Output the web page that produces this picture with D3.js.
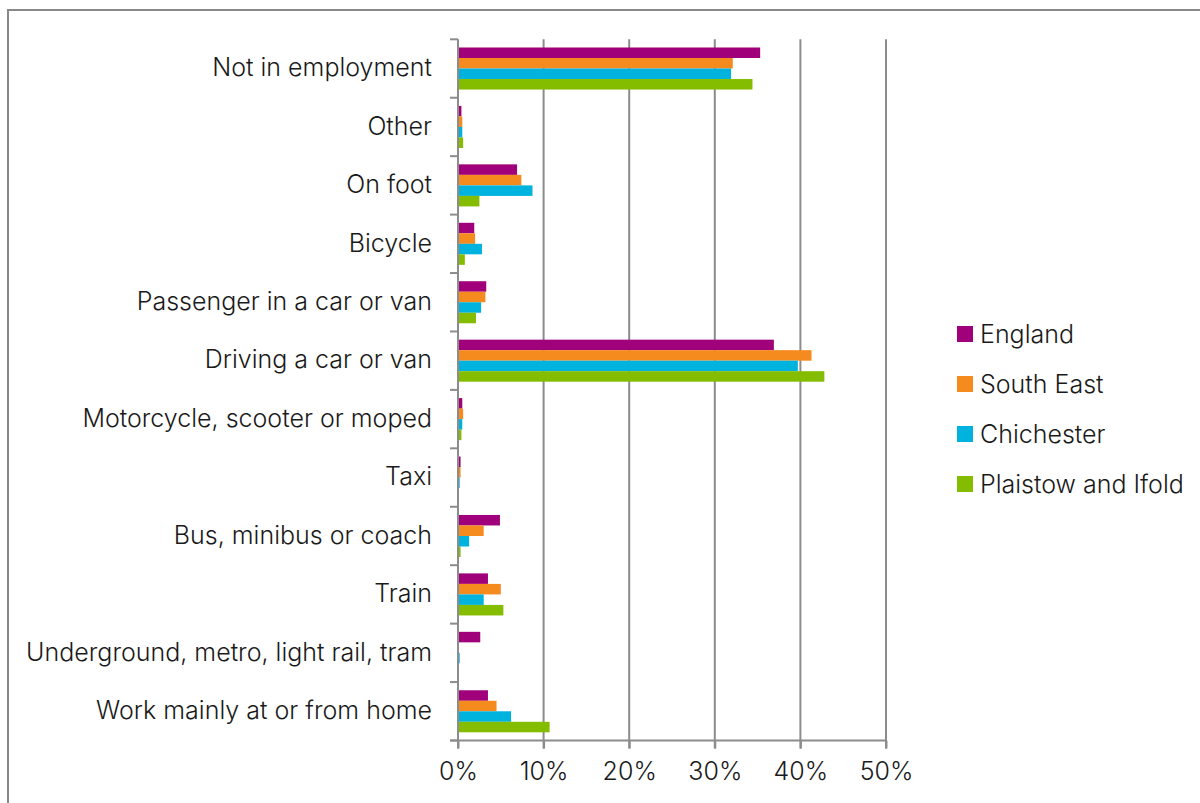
<!DOCTYPE html>
<html>
<head>
<meta charset="utf-8">
<script src="https://cdn.jsdelivr.net/npm/d3@7"></script>
<style>
  html, body { margin: 0; padding: 0; background: #fff; }
  svg { display: block; }
  text { font-family: Inter, "Noto Sans", sans-serif; fill: #1a1a1a; font-weight: 300; }
</style>
</head>
<body>
<svg id="chart" width="1200" height="803"></svg>
<script>
const categories = [
  "Not in employment", "Other", "On foot", "Bicycle",
  "Passenger in a car or van", "Driving a car or van",
  "Motorcycle, scooter or moped", "Taxi", "Bus, minibus or coach",
  "Train", "Underground, metro, light rail, tram", "Work mainly at or from home"
];
const seriesNames = ["England", "South East", "Chichester", "Plaistow and Ifold"];
const seriesColors = ["#A0007A", "#F58A1F", "#00B2DE", "#84BD00"];
const england    = [35.3, 0.4, 6.9, 1.9, 3.3, 36.9, 0.5, 0.3, 4.9, 3.5, 2.6, 3.5];
const southEast  = [32.1, 0.5, 7.4, 2.0, 3.2, 41.3, 0.6, 0.3, 3.0, 5.0, 0.1, 4.5];
const chichester = [31.9, 0.5, 8.7, 2.8, 2.7, 39.7, 0.5, 0.2, 1.3, 3.0, 0.2, 6.2];
const plaistow   = [34.4, 0.6, 2.5, 0.8, 2.1, 42.8, 0.4, 0.1, 0.3, 5.3, 0.0, 10.7];
const xTicks = [0, 10, 20, 30, 40, 50];

const values = [england, southEast, chichester, plaistow];

const svg = d3.select("#chart");
const margin = { left: 458, top: 39.3, right: 314, bottom: 62.5 };
const W = 1200, H = 803;
const plotH = H - margin.top - margin.bottom;

svg.append("rect")
  .attr("x", 8).attr("y", 10).attr("width", 1200).attr("height", 810)
  .attr("fill", "none").attr("stroke", "#888").attr("stroke-width", 2);

const g = svg.append("g").attr("transform", `translate(${margin.left},${margin.top})`);

const x = d3.scaleLinear().domain([0, 50]).range([0, 428]);
const y = d3.scaleBand().domain(categories).range([0, plotH]).paddingInner(0).paddingOuter(0);
const ySub = d3.scaleBand().domain(seriesNames).range([0, y.bandwidth()]).paddingOuter(0.78).paddingInner(0);

g.append("g").selectAll("line")
  .data(xTicks.filter(d => d > 0))
  .join("line")
  .attr("x1", d => x(d)).attr("x2", d => x(d))
  .attr("y1", 0).attr("y2", plotH + 8)
  .attr("stroke", "#8c8c8c").attr("stroke-width", 2);

seriesNames.forEach((s, si) => {
  g.append("g").selectAll("rect")
    .data(categories.map((c, ci) => ({ c, v: values[si][ci] })))
    .join("rect")
    .attr("x", 0)
    .attr("y", d => y(d.c) + ySub(s))
    .attr("width", d => x(d.v))
    .attr("height", ySub.bandwidth())
    .attr("fill", seriesColors[si]);
});

const yAxisG = g.append("g");
yAxisG.append("line")
  .attr("x1", 0).attr("x2", 0).attr("y1", 0).attr("y2", plotH + 8)
  .attr("stroke", "#8c8c8c").attr("stroke-width", 2);
const bounds = categories.map(c => y(c)).concat([plotH]);
yAxisG.selectAll("line.tick")
  .data(bounds)
  .join("line").attr("class", "tick")
  .attr("x1", -8).attr("x2", 0)
  .attr("y1", d => d).attr("y2", d => d)
  .attr("stroke", "#8c8c8c").attr("stroke-width", 2);

yAxisG.selectAll("text")
  .data(categories)
  .join("text")
  .attr("x", -26)
  .attr("y", d => y(d) + y.bandwidth() / 2 - 1)
  .attr("dy", "0.35em")
  .attr("text-anchor", "end")
  .style("font-size", "25px")
  .text(d => d);

const xAxis = d3.axisBottom(x).tickValues(xTicks).tickFormat(d => d + "%").tickSize(8).tickPadding(14);
const xg = g.append("g").attr("transform", `translate(0,${plotH})`).call(xAxis);
xg.select(".domain").remove();
xg.append("line").attr("x1", -8).attr("x2", 428).attr("y1", 0).attr("y2", 0)
  .attr("stroke", "#8c8c8c").attr("stroke-width", 2);
xg.selectAll(".tick line").attr("stroke", "#8c8c8c").attr("stroke-width", 2);
xg.selectAll(".tick text").style("font-size", "25px").style("font-family", "Inter, sans-serif")
  .style("font-weight", 300).attr("fill", "#1a1a1a");

const legend = svg.append("g").attr("transform", "translate(957,326)");
seriesNames.forEach((s, i) => {
  const lg = legend.append("g").attr("transform", `translate(0,${i * 50})`);
  lg.append("rect").attr("x", 0).attr("y", 0).attr("width", 16).attr("height", 16).attr("fill", seriesColors[i]);
  lg.append("text").attr("x", 23).attr("y", 8).attr("dy", "0.35em")
    .style("font-size", "25px").text(s);
});
</script>
</body>
</html>
